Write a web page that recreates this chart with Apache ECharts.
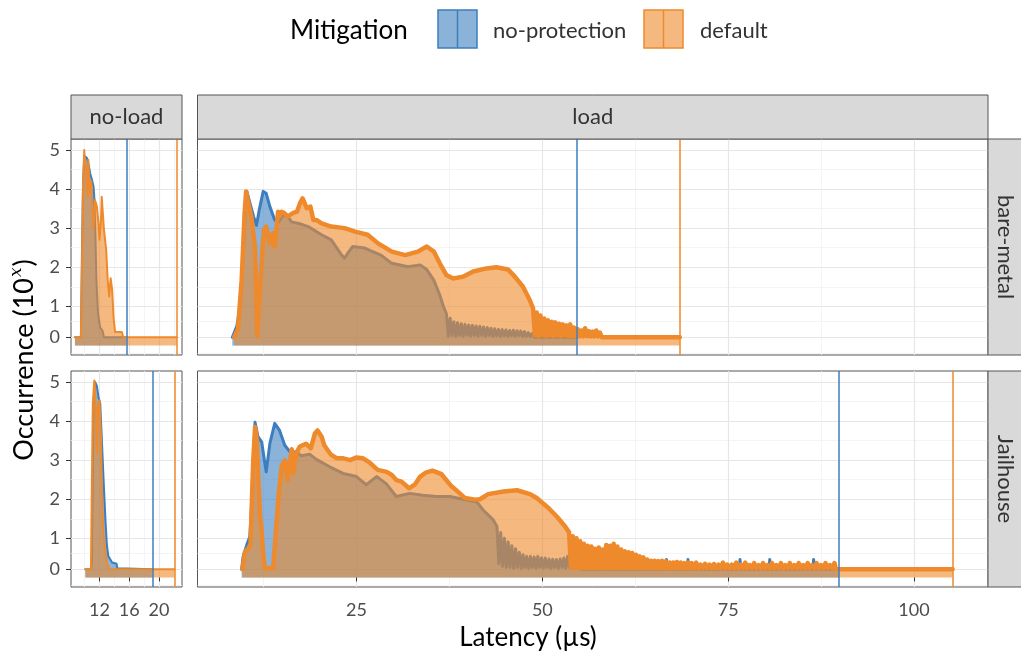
<!DOCTYPE html>
<html>
<head>
<meta charset="utf-8">
<script src="https://cdn.jsdelivr.net/npm/echarts@6/dist/echarts.min.js"></script>
<style>
  html, body { margin: 0; padding: 0; background: #ffffff; }
  #chart { width: 1021px; height: 657px; }
</style>
</head>
<body>
<div id="chart"></div>
<script>
// Latency histograms: [latency in µs, log10(occurrence)]
const bareMetalNoLoadNoProtection = [[8.7,0],[9.5,0],[9.65,2.5],[9.8,4.2],[9.95,4.85],[10.1,4.87],[10.3,4.8],[10.5,4.66],[10.75,4.4],[11.0,4.23],[11.2,4.06],[11.3,3.8],[11.45,2.8],[11.6,1.6],[11.8,0.8],[12.1,0.4],[12.4,0.3],[12.6,0],[15.6,0]];
const bareMetalNoLoadDefault = [[8.7,0],[9.5,0],[9.64,1.93],[9.77,3.98],[9.95,5.0],[10.05,4.7],[10.2,4.58],[10.4,3.8],[10.5,4.75],[10.6,4.3],[10.75,3.9],[10.9,4.2],[11.05,3.5],[11.2,2.96],[11.4,3.72],[11.65,3.55],[11.87,3.13],[12.0,2.7],[12.2,3.2],[12.3,3.8],[12.45,3.85],[12.6,2.96],[12.9,2.44],[13.1,1.68],[13.3,1.25],[13.5,1.72],[13.7,1.42],[13.9,0.67],[14.1,0.24],[15.0,0.24],[15.2,0],[22.4,0]];

const bareMetalLoadNoProtection = [[8.3,0],[8.9,0.45],[9.35,0.98],[9.75,2.27],[10.05,3.39],[10.25,3.94],[10.65,3.65],[11.15,3.3],[11.55,3.07],[11.95,3.5],[12.45,3.94],[12.85,3.89],[13.35,3.55],[14.0,3.21],[14.45,3.13],[15.15,3.34],[15.75,3.3],[16.25,3.16],[17.25,3.12],[18.5,3.04],[20.3,2.83],[21.6,2.7],[22.5,2.45],[23.0,2.31],[23.4,2.23],[23.9,2.38],[24.5,2.53],[26.1,2.49],[28.3,2.31],[29.75,2.1],[31.95,2.01],[33.55,2.06],[34.45,1.94],[35.4,1.67],[36.2,1.29],[36.7,0.99],
  [37.1,0.8],[37.35,0.05],[37.6,0.68],[37.85,0.1],[38.1,0.58],[38.35,0.05],[38.6,0.55],[38.85,0.1],[39.1,0.52],[39.35,0.05],[39.6,0.5],[39.85,0.1],[40.1,0.48],[40.35,0.05],[40.6,0.47],[40.85,0.1],[41.1,0.45],[41.35,0.05],[41.6,0.44],[41.85,0.1],[42.1,0.42],[42.35,0.05],[42.6,0.4],[42.85,0.1],[43.1,0.38],[43.35,0.05],[43.6,0.36],[43.85,0.08],[44.1,0.34],[44.35,0.05],[44.6,0.33],[44.85,0.08],[45.1,0.32],[45.35,0.05],[45.6,0.3],[45.85,0.08],[46.1,0.31],[46.35,0.05],[46.6,0.29],[46.85,0.08],[47.1,0.28],[47.35,0.05],[47.6,0.26],[47.85,0.05],[48.1,0.22],[48.35,0.05],[48.6,0.18],[48.9,0],[54.6,0]];
const bareMetalLoadDefault = [[8.55,0],[9.05,0.35],[9.55,1.67],[9.95,3.39],[10.15,3.94],[10.35,3.74],[10.85,3.3],[11.05,2.97],[11.35,2.53],[11.65,0.05],[12.0,1.42],[12.3,2.36],[12.55,2.95],[12.85,3.04],[13.35,2.61],[13.75,2.87],[14.0,2.53],[14.45,3.42],[14.65,3.3],[14.9,3.42],[15.25,3.39],[15.75,3.3],[16.5,3.39],[17.0,3.42],[17.4,3.64],[17.75,3.76],[18.3,3.51],[18.8,3.55],[19.2,3.21],[19.6,3.21],[20.3,3.12],[21.6,3.04],[23.4,3.0],[24.8,2.91],[26.5,2.83],[27.9,2.61],[29.75,2.4],[31.55,2.31],[33.25,2.4],[34.45,2.53],[35.4,2.4],[36.2,2.1],[37.1,1.8],[38.0,1.71],[39.4,1.76],[40.7,1.89],[42.5,1.97],[43.8,2.0],[45.4,1.94],[46.3,1.76],[47.4,1.5],[48.3,1.16],
  [48.75,0.95],[49.0,0.1],[49.25,0.83],[49.5,0.05],[49.75,0.75],[50.0,0.1],[50.25,0.67],[50.5,0.05],[50.75,0.62],[51.0,0.1],[51.25,0.58],[51.5,0.05],[51.75,0.56],[52.0,0.1],[52.25,0.52],[52.5,0.05],[52.75,0.5],[53.0,0.1],[53.25,0.47],[53.5,0.05],[53.75,0.5],[54.0,0.05],[54.25,0.4],[54.5,0.05],[54.75,0.35],[55.0,0.05],[55.25,0.3],[55.5,0.05],[55.75,0.38],[56.0,0.05],[56.25,0.28],[56.5,0.05],[56.75,0.26],[57.0,0.05],[57.25,0.3],[57.5,0.05],[57.75,0.22],[58.0,0],[68.5,0]];

const jailhouseNoLoadNoProtection = [[10.1,0],[10.9,0],[10.98,0.3],[11.2,4.45],[11.4,5.0],[11.65,4.9],[11.87,4.6],[12.1,4.45],[12.3,3.6],[12.55,2.5],[12.8,1.47],[13.0,0.8],[13.2,0.5],[13.7,0.3],[14.3,0.25],[14.4,0.05],[14.5,0],[19.1,0]];
const jailhouseNoLoadDefault = [[10.1,0],[10.85,0],[10.98,2.5],[11.1,4.45],[11.3,5.04],[11.4,4.87],[11.55,4.0],[11.65,3.17],[11.8,4.45],[12.0,4.53],[12.2,3.6],[12.3,2.32],[12.45,1.47],[12.55,1.05],[12.8,0.62],[13.0,0.3],[13.3,0],[22.1,0]];

const jailhouseLoadNoProtection = [[9.55,0],[9.75,0.5],[10.25,0.83],[10.65,1.04],[10.85,1.73],[11.1,2.92],[11.35,3.97],[11.75,3.6],[12.25,3.46],[12.85,2.7],[13.35,3.43],[14.0,3.94],[14.65,3.76],[15.35,3.38],[16.05,3.21],[16.95,3.21],[17.55,3.11],[18.7,3.15],[19.6,3.02],[21.4,2.83],[23.2,2.66],[25.0,2.58],[26.3,2.37],[27.7,2.58],[29.0,2.4],[30.35,2.07],[32.15,2.15],[33.95,2.1],[35.75,2.07],[37.6,2.07],[39.8,1.98],[41.2,1.93],[42.0,1.73],[43.4,1.47],
  [43.9,1.3],[44.15,0.25],[44.4,1.15],[44.65,0.15],[44.9,1.0],[45.15,0.1],[45.4,0.9],[45.65,0.1],[45.9,0.8],[46.15,0.05],[46.4,0.72],[46.65,0.1],[46.9,0.62],[47.15,0.05],[47.4,0.55],[47.65,0.1],[47.9,0.5],[48.15,0.05],[48.4,0.5],[48.65,0.1],[48.9,0.48],[49.15,0.05],[49.4,0.5],[49.65,0.1],[49.9,0.46],[50.15,0.05],[50.4,0.45],[50.65,0.1],[50.9,0.42],[51.15,0.05],[51.4,0.41],[51.65,0.1],[51.9,0.4],[52.15,0.05],[52.4,0.42],[52.65,0.1],[52.9,0.45],[53.15,0.05],[53.4,0.5],[53.65,0.1],[53.9,0.52],[54.15,0.05],[54.4,0.48],[54.65,0.1],[54.9,0.3],[55.1,0],
  [66.6,0],[66.7,0.4],[66.8,0],[69.5,0],[69.6,0.4],[69.7,0],[76.5,0],[76.6,0.4],[76.7,0],[80.5,0],[80.6,0.4],[80.7,0],[86.4,0],[86.5,0.4],[86.6,0],[89.9,0]];
const jailhouseLoadDefault = [[9.65,0],[10.0,0.63],[10.46,0.73],[10.75,0.85],[10.96,2.15],[11.11,2.99],[11.36,3.85],[11.56,3.57],[11.76,2.7],[12.02,1.6],[12.27,1.1],[12.47,0.5],[12.67,0.05],[13.77,0.05],[14.03,0.83],[14.48,2.0],[14.93,2.85],[15.38,3.0],[15.73,2.49],[16.09,3.0],[16.29,3.28],[16.49,2.66],[16.94,3.2],[17.39,3.35],[18.2,3.42],[18.85,3.3],[19.4,3.68],[19.76,3.76],[20.31,3.6],[20.66,3.38],[21.51,3.15],[22.32,3.05],[23.12,3.05],[24.13,3.0],[25.03,3.07],[25.84,3.05],[26.69,2.95],[27.85,2.75],[29.05,2.7],[29.75,2.62],[30.36,2.49],[31.06,2.45],[32.07,2.28],[32.87,2.38],[33.57,2.58],[34.33,2.68],[35.23,2.73],[36.44,2.64],[37.79,2.33],[38.9,2.15],[39.6,2.03],[40.96,1.99],[41.61,2.0],[42.72,2.13],[44.78,2.2],[46.59,2.23],[48.35,2.13],[49.25,2.03],[50.86,1.77],[51.97,1.55],[53.07,1.3],
  [53.6,1.15],[53.85,0.1],[54.1,1.05],[54.35,0.05],[54.6,1.0],[54.85,0.05],[55.1,0.92],[55.35,0.05],[55.6,0.85],[55.85,0.05],[56.1,0.8],[56.35,0.05],[56.6,0.78],[56.85,0.05],[57.1,0.72],[57.35,0.05],[57.6,0.75],[57.85,0.05],[58.1,0.7],[58.35,0.05],[58.6,0.82],[58.85,0.05],[59.1,0.8],[59.35,0.05],[59.6,0.85],[59.85,0.05],[60.1,0.78],[60.35,0.05],[60.6,0.7],[60.85,0.05],[61.1,0.65],[61.35,0.05],[61.6,0.62],[61.85,0.05],[62.1,0.6],[62.35,0.05],[62.6,0.55],[62.85,0.05],[63.1,0.5],[63.35,0.05],[63.6,0.47],[63.85,0.05],[64.1,0.4],[64.35,0.05],[64.6,0.36],[64.85,0.05],[65.1,0.36],[65.35,0.05],[65.6,0.35],[65.85,0.05],[66.1,0.36],[66.35,0.05],[66.6,0.34],[66.85,0.05],[67.1,0.3],[67.35,0.05],[67.6,0.3],[67.85,0.05],[68.1,0.32],[68.35,0.05],[68.6,0.3],[68.85,0.05],[69.1,0.28],[69.35,0.05],[69.6,0.3],[69.85,0.05],[70.1,0.28],[70.4,0.05],[70.7,0.3],[71.0,0.05],[71.3,0.22],[71.6,0.05],[71.9,0.25],[72.2,0.05],[72.5,0.22],[72.8,0.05],[73.1,0.24],[73.4,0.05],[73.7,0.22],[74.0,0.05],[74.3,0.3],[74.6,0.05],[74.9,0.22],[75.2,0.05],[75.5,0.22],[75.8,0.05],[76.1,0.3],[76.4,0.05],[76.7,0.22],[77.0,0.05],[77.3,0.3],[77.6,0.05],[77.9,0.2],[78.2,0.05],[78.5,0.28],[78.8,0.05],[79.1,0.2],[79.4,0.05],[79.7,0.28],[80.0,0.05],[80.3,0.2],[80.6,0.05],[80.9,0.28],[81.2,0.05],[81.5,0.2],[81.8,0.05],[82.1,0.28],[82.4,0.05],[82.7,0.2],[83.0,0.05],[83.3,0.28],[83.6,0.05],[83.9,0.2],[84.2,0.05],[84.5,0.28],[84.8,0.05],[85.1,0.2],[85.4,0.05],[85.7,0.28],[86.0,0.05],[86.3,0.2],[86.6,0.05],[86.9,0.28],[87.2,0.05],[87.5,0.2],[87.8,0.05],[88.1,0.28],[88.4,0.05],[88.7,0.2],[89.0,0.05],[89.3,0.28],[89.5,0],[105.2,0]];

// Worst-case latency per panel: bare-metal no-load, bare-metal load, Jailhouse no-load, Jailhouse load
const maxLatencyNoProtection = [15.6, 54.6, 19.1, 89.9];
const maxLatencyDefault = [22.4, 68.5, 22.1, 105.2];

const mitigations = ['no-protection', 'default'];
const loadLevels = ['no-load', 'load'];
const platforms = ['bare-metal', 'Jailhouse'];
const yTickExponents = [0, 1, 2, 3, 4, 5];
const noLoadTicks = [12, 16, 20];
const loadTicks = [25, 50, 75, 100];

// ---------------------------------------------------------------
const FONT = 'Lato, "Noto Sans", sans-serif';
const BLUE = '#3d7ebf';
const ORANGE = '#ee8a2c';
const TEXT_GRAY = '#4d4d4d';
const BORDER = '#555555';

// pseudo-log scale: asinh(count / 2) / ln(10)
const pseudoLog = c => Math.asinh(c / 2) / Math.LN10;
const expToAxis = e => pseudoLog(Math.pow(10, e));
const axisToExp = v => Math.round(Math.log10(2 * Math.sinh(v * Math.LN10)));

const yTickValues = yTickExponents.map(expToAxis);
// minor breaks halfway between major breaks (transformed space), incl. one below
const yMinorValues = [];
{
  const step = yTickValues[1] - yTickValues[0];
  const ext = [yTickValues[0] - step].concat(yTickValues);
  for (let i = 0; i < ext.length - 1; i++) yMinorValues.push((ext[i] + ext[i + 1]) / 2);
}
const minorBetween = (ticks, lo, hi) => {
  const step = ticks[1] - ticks[0];
  const ext = [ticks[0] - step].concat(ticks, [ticks[ticks.length - 1] + step]);
  const out = [];
  for (let i = 0; i < ext.length - 1; i++) {
    const m = (ext[i] + ext[i + 1]) / 2;
    if (m > lo && m < hi) out.push(m);
  }
  return out;
};

const Y_MIN = -0.245, Y_MAX = 5.28;
const X_RANGE_NOLOAD = [8.17, 23.09];
const X_RANGE_LOAD = [3.61, 109.96];

const panels = [
  { box: { left: 71, top: 139, width: 111, height: 216 }, range: X_RANGE_NOLOAD, ticks: noLoadTicks, noProt: bareMetalNoLoadNoProtection, def: bareMetalNoLoadDefault, bottom: false, leftCol: true, wide: false },
  { box: { left: 197.5, top: 139, width: 790.5, height: 216 }, range: X_RANGE_LOAD, ticks: loadTicks, noProt: bareMetalLoadNoProtection, def: bareMetalLoadDefault, bottom: false, leftCol: false, wide: true },
  { box: { left: 71, top: 371, width: 111, height: 216 }, range: X_RANGE_NOLOAD, ticks: noLoadTicks, noProt: jailhouseNoLoadNoProtection, def: jailhouseNoLoadDefault, bottom: true, leftCol: true, wide: false },
  { box: { left: 197.5, top: 371, width: 790.5, height: 216 }, range: X_RANGE_LOAD, ticks: loadTicks, noProt: jailhouseLoadNoProtection, def: jailhouseLoadDefault, bottom: true, leftCol: false, wide: true }
];

const grids = [], xAxes = [], yAxes = [], series = [];

panels.forEach((p, i) => {
  grids.push(Object.assign({ show: true, borderColor: BORDER, borderWidth: 1, backgroundColor: '#ffffff', containLabel: false, outerBoundsMode: 'none' }, p.box));

  xAxes.push({
    type: 'value', gridIndex: i, min: p.range[0], max: p.range[1],
    axisLine: { show: false }, splitLine: { show: false },
    axisTick: { show: p.bottom, length: 4, lineStyle: { color: '#333333', width: 1 }, customValues: p.ticks },
    axisLabel: { show: p.bottom, customValues: p.ticks, color: TEXT_GRAY, fontSize: 18, fontFamily: FONT, margin: 14 }
  });
  yAxes.push({
    type: 'value', gridIndex: i, min: Y_MIN, max: Y_MAX,
    axisLine: { show: false }, splitLine: { show: false },
    axisTick: { show: p.leftCol, length: 5, lineStyle: { color: '#333333', width: 1 }, customValues: yTickValues },
    axisLabel: { show: p.leftCol, customValues: yTickValues, color: TEXT_GRAY, fontSize: 18, fontFamily: FONT, margin: 11,
      formatter: v => String(axisToExp(v)) }
  });

  // panel grid lines (kept beneath the areas)
  const major = { color: '#e6e6e6', width: 1.2, type: 'solid' };
  const minor = { color: '#f1f1f1', width: 0.8, type: 'solid' };
  const lines = [];
  yMinorValues.filter(v => v > Y_MIN && v < Y_MAX).forEach(v => lines.push({ yAxis: v, lineStyle: minor }));
  minorBetween(p.ticks, p.range[0], p.range[1]).forEach(v => lines.push({ xAxis: v, lineStyle: minor }));
  yTickValues.forEach(v => lines.push({ yAxis: v, lineStyle: major }));
  p.ticks.forEach(v => lines.push({ xAxis: v, lineStyle: major }));
  series.push({
    type: 'line', xAxisIndex: i, yAxisIndex: i, data: [], z: 0, silent: true,
    markLine: { z: 0, silent: true, symbol: 'none', label: { show: false }, animation: false, data: lines }
  });

  // histogram areas, no-protection underneath, default on top
  const layers = [
    { name: mitigations[0], data: p.noProt, color: BLUE, max: maxLatencyNoProtection[i], width: p.wide ? 3 : 2 },
    { name: mitigations[1], data: p.def, color: ORANGE, max: maxLatencyDefault[i], width: p.wide ? 4.5 : 2 }
  ];
  layers.forEach((l, k) => {
    series.push({
      name: l.name, type: 'line', xAxisIndex: i, yAxisIndex: i, z: 2 + k,
      data: l.data.map(([x, e]) => [x, expToAxis(e)]),
      symbol: 'none', showSymbol: false, smooth: false, silent: true,
      lineStyle: { color: l.color, width: l.width, join: 'round', cap: 'round' },
      areaStyle: { color: l.color, opacity: 0.6, origin: 0 },
      markLine: {
        z: 6, silent: true, symbol: 'none', label: { show: false }, animation: false,
        lineStyle: { color: l.color, width: 1.5, type: 'solid' },
        data: [{ xAxis: l.max }]
      }
    });
  });
});

// facet strips, axis titles and legend
const stripFill = '#d9d9d9';
const graphics = [];
const topStrips = [
  { x: 71, w: 111, label: loadLevels[0] },
  { x: 197.5, w: 790.5, label: loadLevels[1] }
];
topStrips.forEach(s => {
  graphics.push({ type: 'rect', shape: { x: s.x, y: 95, width: s.w, height: 44 }, style: { fill: stripFill, stroke: BORDER, lineWidth: 1 }, z: 10 });
  graphics.push({ type: 'text', x: s.x + s.w / 2, y: 117, style: { text: s.label, fill: '#333333', fontSize: 22, fontFamily: FONT, textAlign: 'center', textVerticalAlign: 'middle' }, z: 11 });
});
[{ y: 139, label: platforms[0] }, { y: 371, label: platforms[1] }].forEach(s => {
  graphics.push({ type: 'rect', shape: { x: 988, y: s.y, width: 40, height: 216 }, style: { fill: stripFill, stroke: BORDER, lineWidth: 1 }, z: 10 });
  graphics.push({ type: 'text', x: 1005, y: s.y + 108, rotation: -Math.PI / 2, style: { text: s.label, fill: '#333333', fontSize: 22, fontFamily: FONT, textAlign: 'center', textVerticalAlign: 'middle' }, z: 11 });
});
graphics.push({ type: 'text', x: 528, y: 638, style: { text: 'Latency (µs)', fill: '#000000', fontSize: 26, fontFamily: FONT, textAlign: 'center', textVerticalAlign: 'middle' } });
graphics.push({ type: 'text', x: 24, y: 360, rotation: Math.PI / 2, style: {
  text: 'Occurrence (10{sup|x})', fill: '#000000', fontSize: 27, fontFamily: FONT, textAlign: 'center', textVerticalAlign: 'middle',
  rich: { sup: { fontSize: 17, fontStyle: 'italic', fontFamily: '"DejaVu Serif", serif', fill: '#000000', padding: [0, 1, 15, 1] } }
} });

graphics.push({ type: 'text', x: 290, y: 31, style: { text: 'Mitigation', fill: '#000000', fontSize: 26, fontFamily: FONT, textAlign: 'left', textVerticalAlign: 'middle' } });
const legendItems = [
  { x: 438, color: BLUE, fill: 'rgba(61,126,191,0.6)', label: mitigations[0], tx: 493 },
  { x: 644, color: ORANGE, fill: 'rgba(238,138,44,0.6)', label: mitigations[1], tx: 700 }
];
legendItems.forEach(it => {
  graphics.push({ type: 'rect', shape: { x: it.x, y: 10, width: 39, height: 38 }, style: { fill: it.fill, stroke: it.color, lineWidth: 1.5 } });
  graphics.push({ type: 'line', shape: { x1: it.x + 19.5, y1: 10, x2: it.x + 19.5, y2: 48 }, style: { stroke: it.color, lineWidth: 1.5 } });
  graphics.push({ type: 'text', x: it.tx, y: 31, style: { text: it.label, fill: '#333333', fontSize: 22, fontFamily: FONT, textAlign: 'left', textVerticalAlign: 'middle' } });
});

const chart = echarts.init(document.getElementById('chart'), null, { renderer: 'canvas' });
chart.setOption({
  backgroundColor: '#ffffff',
  animation: false,
  grid: grids,
  xAxis: xAxes,
  yAxis: yAxes,
  series: series,
  graphic: { elements: graphics }
});
</script>
</body>
</html>
